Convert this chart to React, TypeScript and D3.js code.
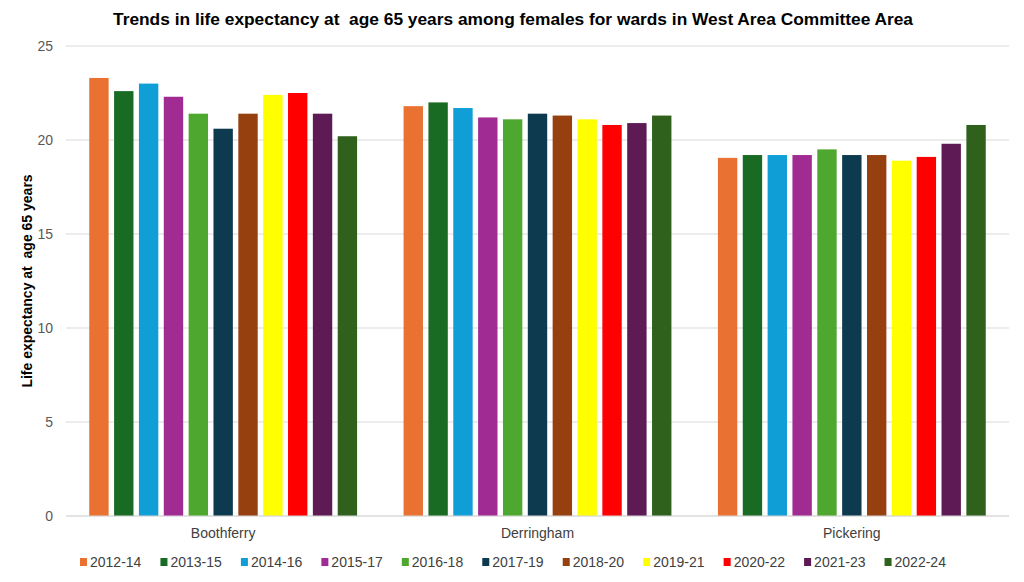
import React from "react";
import * as d3 from "d3";

const wards = ["Boothferry", "Derringham", "Pickering"];
const periods = [
    "2012-14", "2013-15", "2014-16", "2015-17", "2016-18", "2017-19",
    "2018-20", "2019-21", "2020-22", "2021-23", "2022-24",
];
const colors = [
    "#e97132", "#196b24", "#0f9ed5", "#a02b93", "#4ea72e", "#0e3a50",
    "#963f0f", "#ffff00", "#ff0000", "#5e1a54", "#2f611c",
];
// values per ward, in the order of periods
const boothferry = [23.3, 22.6, 23.0, 22.3, 21.4, 20.6, 21.4, 22.4, 22.5, 21.4, 20.2];
const derringham = [21.8, 22.0, 21.7, 21.2, 21.1, 21.4, 21.3, 21.1, 20.8, 20.9, 21.3];
const pickering = [19.05, 19.2, 19.2, 19.2, 19.5, 19.2, 19.2, 18.9, 19.1, 19.8, 20.8];
const yTicks = [0, 5, 10, 15, 20, 25];

const values = [boothferry, derringham, pickering];

const W = 1024;
const H = 582;
const left = 66;
const right = 1009;
const top = 46;
const bottom = 516;

export default function App() {
    const x0 = d3
        .scaleBand<string>()
        .domain(wards)
        .range([left, right])
        .paddingInner(0.14)
        .paddingOuter(0.07);
    const x1 = d3
        .scaleBand<string>()
        .domain(periods)
        .range([0, x0.bandwidth()])
        .paddingInner(0.22)
        .paddingOuter(0.05);
    const y = d3.scaleLinear().domain([0, 25]).range([bottom, top]);

    const legendX = d3.scaleBand<string>().domain(periods).range([80, 965]);

    const font = "'Liberation Sans', Arial, sans-serif";

    return (
        <svg
            width={W}
            height={H}
            style={{ position: "absolute", left: 0, top: 0, background: "#fff" }}
            fontFamily={font}
        >
            <text
                x={513}
                y={25}
                textAnchor="middle"
                fontSize={16.5}
                fontWeight="bold"
                fill="#000"
                textLength={800}
                lengthAdjust="spacingAndGlyphs"
                style={{ whiteSpace: "pre" }}
            >
                {"Trends in life expectancy at  age 65 years among females for wards in West Area Committee Area"}
            </text>

            {yTicks.map((t) => (
                <g key={t}>
                    <line
                        x1={left}
                        x2={right}
                        y1={y(t)}
                        y2={y(t)}
                        stroke="#d9d9d9"
                        strokeWidth={1}
                    />
                    <text
                        x={53}
                        y={y(t)}
                        dy="0.35em"
                        textAnchor="end"
                        fontSize={14}
                        fill="#595959"
                    >
                        {t}
                    </text>
                </g>
            ))}

            <text
                transform="translate(32,281) rotate(-90)"
                textAnchor="middle"
                fontSize={14}
                fontWeight="bold"
                fill="#000"
                style={{ whiteSpace: "pre" }}
            >
                {"Life expectancy at  age 65 years"}
            </text>

            {wards.map((w, wi) => (
                <g key={w} transform={`translate(${x0(w)},0)`}>
                    {periods.map((p, pi) => (
                        <rect
                            key={p}
                            x={x1(p)}
                            y={y(values[wi][pi])}
                            width={x1.bandwidth()}
                            height={y(0) - y(values[wi][pi])}
                            fill={colors[pi]}
                        />
                    ))}
                    <text
                        x={x0.bandwidth() / 2}
                        y={533}
                        dy="0.35em"
                        textAnchor="middle"
                        fontSize={14}
                        fill="#404040"
                    >
                        {w}
                    </text>
                </g>
            ))}

            <line x1={left} x2={right} y1={bottom} y2={bottom} stroke="#d9d9d9" />

            {periods.map((p, i) => (
                <g key={p} transform={`translate(${legendX(p)},562)`}>
                    <rect x={0} y={-4} width={7} height={8} fill={colors[i]} />
                    <text x={10} y={0} dy="0.35em" fontSize={14} fill="#404040">
                        {p}
                    </text>
                </g>
            ))}
        </svg>
    );
}
